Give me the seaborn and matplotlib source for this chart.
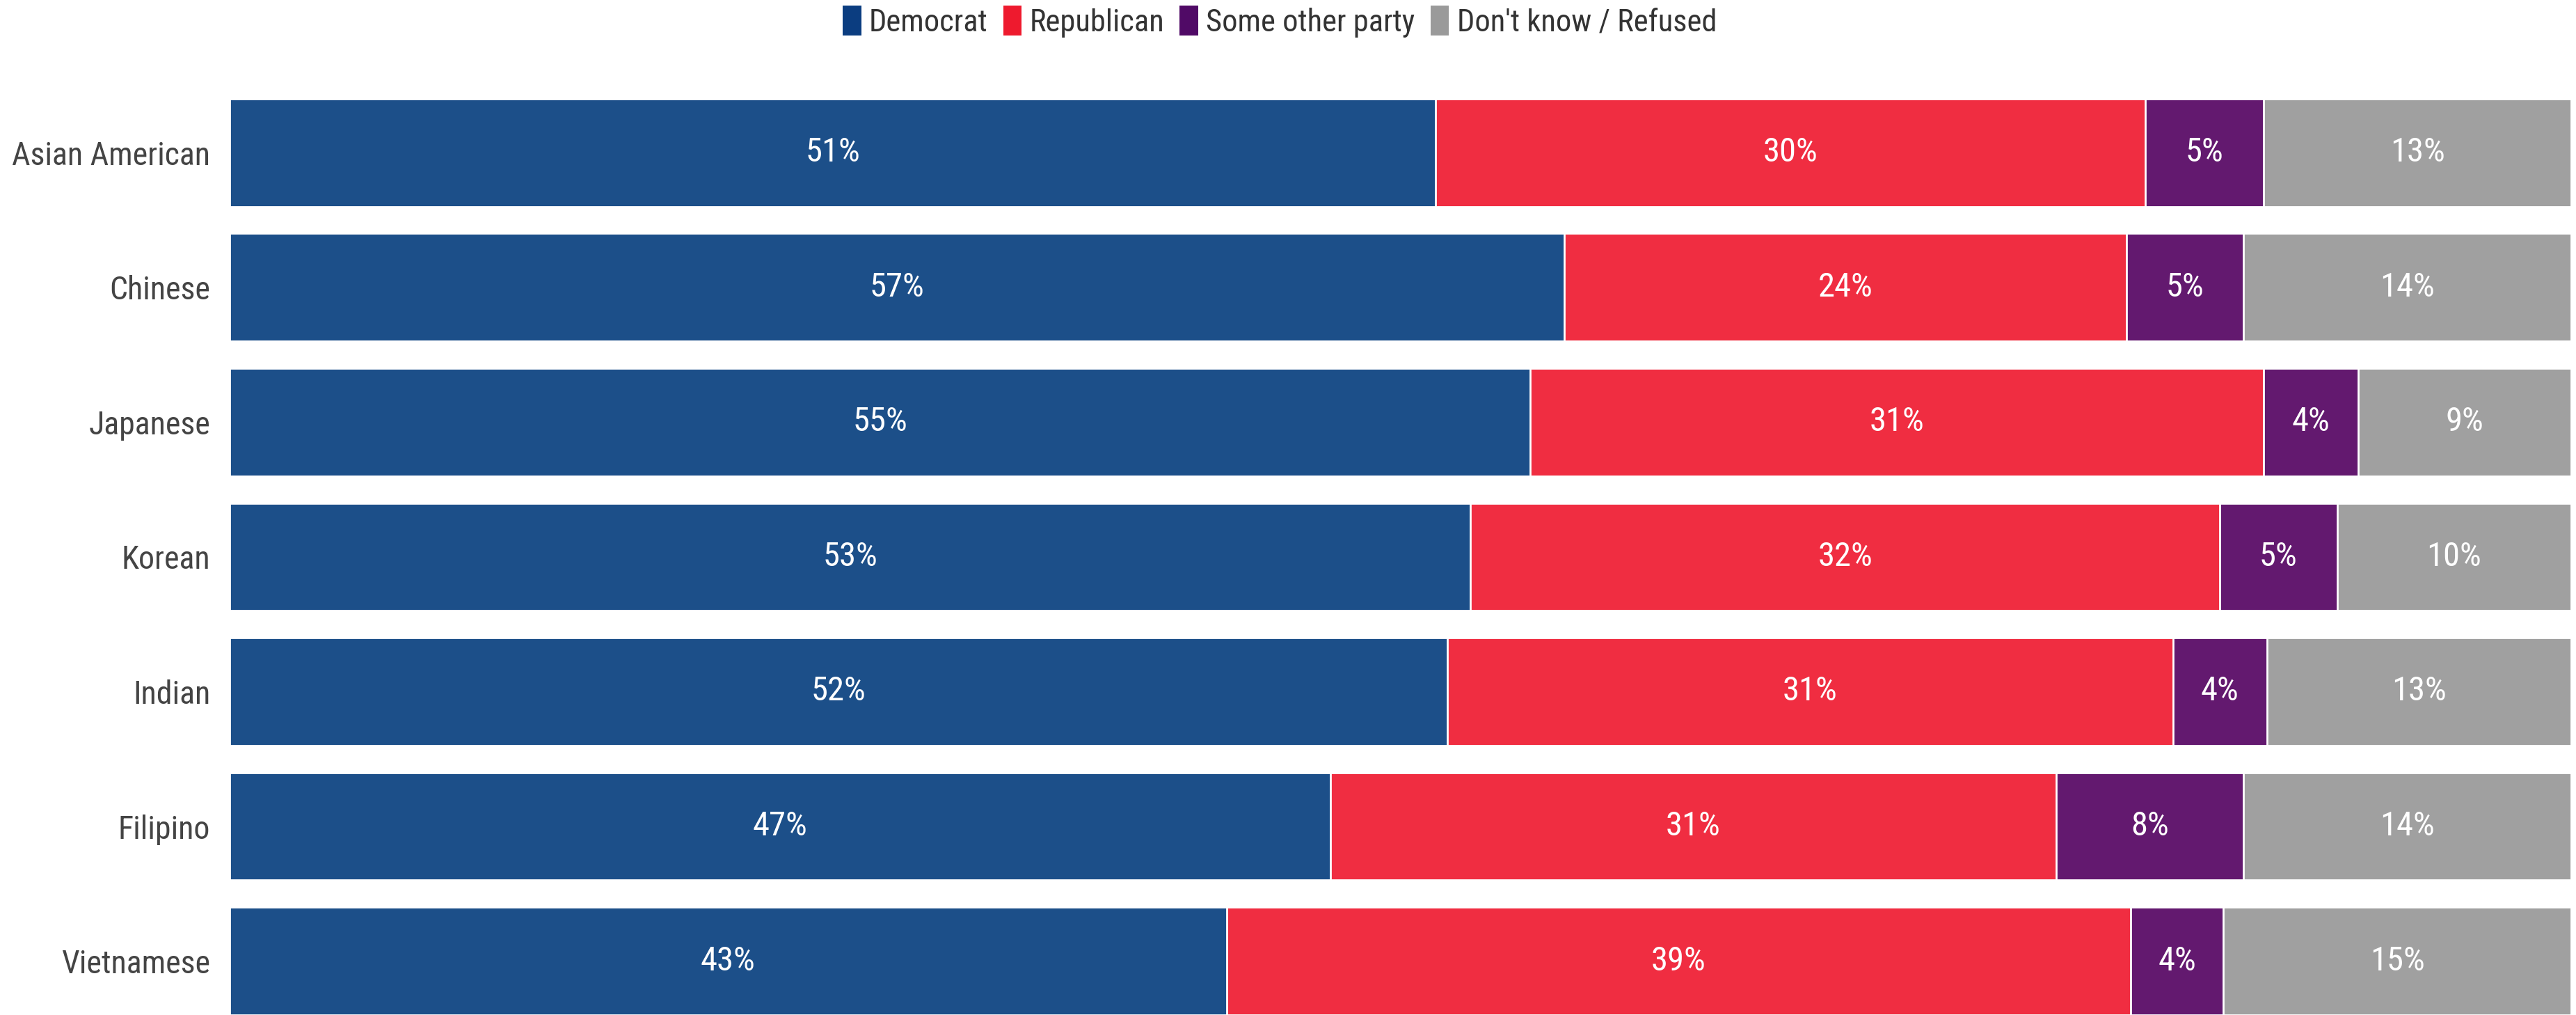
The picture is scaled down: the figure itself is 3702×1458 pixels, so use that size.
import numpy as np
import pandas as pd
import matplotlib
matplotlib.use("Agg")
import matplotlib.pyplot as plt
import matplotlib.font_manager as fm
from matplotlib.patches import Patch
import seaborn as sns

# datos
grupos = ["Asian American", "Chinese", "Japanese", "Korean", "Indian", "Filipino", "Vietnamese"]
democrat = [51, 57, 55, 53, 52, 47, 43]
republican = [30, 24, 31, 32, 31, 31, 39]
other = [5, 5, 4, 5, 4, 8, 4]
dont_know = [13, 14, 9, 10, 13, 14, 15]
series = ["Democrat", "Republican", "Some other party", "Don't know / Refused"]

colores = ["#1c4f89", "#f02d41", "#63196f", "#a0a0a0"]
colores_leyenda = ["#0b3d80", "#ee1a2e", "#500a66", "#9a9a9a"]

sns.set_theme(style="white")
disponibles = {f.name for f in fm.fontManager.ttflist}
fuente = "Roboto"
for f in ["Roboto Condensed", "Liberation Sans Narrow", "Roboto"]:
    if f in disponibles:
        fuente = f
        break
plt.rcParams["font.family"] = [fuente, "DejaVu Sans"]

df = pd.DataFrame({"grupo": grupos, series[0]: democrat, series[1]: republican,
                   series[2]: other, series[3]: dont_know})
vals = df[series].to_numpy(dtype=float)
norm = vals / vals.sum(axis=1, keepdims=True) * 100  # cada barra llega al 100%
acum = norm.cumsum(axis=1)

fig = plt.figure(figsize=(37.02, 14.58), dpi=100)
W, H = 3702, 1458
ax = fig.add_axes([330 / W, 0, (3695 - 330) / W, (H - 122.5) / H])

# barras apiladas: se dibuja el acumulado de mayor a menor
for i in range(3, -1, -1):
    sns.barplot(x=acum[:, i], y=df["grupo"], orient="h", color=colores[i],
                width=0.8, edgecolor="white", linewidth=2, saturation=1, ax=ax)

for r in range(len(grupos)):
    for i in range(4):
        centro = acum[r, i] - norm[r, i] / 2
        ax.text(centro, r, f"{int(vals[r, i])}%", ha="center", va="center",
                color="white", fontsize=35)

ax.set_xlim(0, 100)
ax.set_ylim(6.4, -0.5)
ax.set_xlabel("")
ax.set_ylabel("")
ax.set_xticks([])
ax.tick_params(axis="y", length=0, pad=20, labelsize=33, labelcolor="#444444")
sns.despine(ax=ax, left=True, bottom=True)

handles = [Patch(facecolor=c, edgecolor="none") for c in colores_leyenda]
fig.legend(handles, series, loc="center", bbox_to_anchor=(1839 / W, 1 - 31 / H),
           ncol=4, frameon=False, fontsize=32, handlelength=0.6, handleheight=1.1,
           handletextpad=0.25, columnspacing=0.5, labelcolor="#333333")

fig.savefig("out.png", dpi=100)
